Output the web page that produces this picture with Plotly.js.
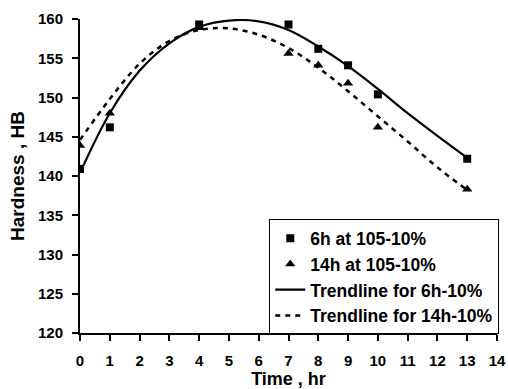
<!DOCTYPE html>
<html>
<head>
<meta charset="utf-8">
<script src="https://cdn.plot.ly/plotly-3.0.1.min.js"></script>
<style>html,body{margin:0;padding:0;background:#fff;}#chart{width:508px;height:389px;}</style>
</head>
<body>
<div id="chart"></div>
<script>
// Measured data points
const time6 = [0, 1, 4, 7, 8, 9, 10, 13];
const hard6 = [140.9, 146.2, 159.3, 159.3, 156.2, 154.1, 150.4, 142.2];
const time14 = [0, 1, 4, 7, 8, 9, 10, 13];
const hard14 = [143.9, 148.0, 158.9, 155.6, 154.1, 151.8, 146.2, 138.3];
// Trendlines
const trendX = [0, 1, 2, 3, 4, 5, 6, 7, 8, 9, 10, 11, 12, 13];
const trend6 = [140.4, 148.0, 153.4, 156.9, 159.0, 159.8, 159.7, 158.6, 156.5, 154.0, 151.1, 148.0, 145.1, 142.3];
const trend14 = [144.6, 149.8, 154.3, 157.2, 158.6, 158.8, 158.0, 156.3, 153.8, 150.8, 147.6, 144.4, 141.1, 138.2];
const names = ["6h at 105-10%", "14h at 105-10%", "Trendline for 6h-10%", "Trendline for 14h-10%"];
const xTicks = [0,1,2,3,4,5,6,7,8,9,10,11,12,13,14];
const yTicks = [120,125,130,135,140,145,150,155,160];

const FONT = "Arial, 'Liberation Sans', sans-serif";

const data = [
  {x: trendX, y: trend14, mode: "lines", name: names[3], legendrank: 4,
   line: {color: "#000", width: 2.5, dash: "5px,5px", shape: "spline"}},
  {x: trendX, y: trend6, mode: "lines", name: names[2], legendrank: 3,
   line: {color: "#000", width: 2.2, shape: "spline"}},
  {x: time14, y: hard14, mode: "markers", name: names[1], legendrank: 2,
   marker: {symbol: "triangle-up", size: 9, color: "#000"}},
  {x: time6, y: hard6, mode: "markers", name: names[0], legendrank: 1,
   marker: {symbol: "square", size: 8, color: "#000"}}
];

const layout = {
  width: 508, height: 389,
  margin: {l: 80, r: 10, t: 19, b: 56},
  paper_bgcolor: "#fff", plot_bgcolor: "#fff",
  font: {family: FONT, color: "#000", size: 15, weight: "bold"},
  showlegend: true,
  legend: {
    x: 1.003, xanchor: "right", y: 0.362, yanchor: "top",
    bordercolor: "#000", borderwidth: 1, bgcolor: "#fff",
    font: {family: FONT, size: 17.5, color: "#000", weight: "bold"},
    traceorder: "normal"
  },
  xaxis: {
    range: [0, 14], tickvals: xTicks, ticktext: xTicks.map(String),
    showgrid: false, zeroline: false, showline: true, linecolor: "#000", linewidth: 2,
    ticks: "outside", ticklen: 6, tickwidth: 2, tickcolor: "#000",
    ticklabelstandoff: 7,
    tickfont: {family: FONT, size: 15, weight: "bold", color: "#000"},
    title: {text: "Time , hr", font: {family: FONT, size: 18, weight: "bold", color: "#000"}, standoff: 7}
  },
  yaxis: {
    range: [120, 160], tickvals: yTicks, ticktext: yTicks.map(String),
    showgrid: false, zeroline: false, showline: true, linecolor: "#000", linewidth: 2,
    ticks: "outside", ticklen: 6, tickwidth: 2, tickcolor: "#000",
    ticklabelstandoff: 6,
    tickfont: {family: FONT, size: 15, weight: "bold", color: "#000"},
    title: {text: "Hardness , HB", font: {family: FONT, size: 19, weight: "bold", color: "#000"}, standoff: 8}
  }
};

Plotly.newPlot("chart", data, layout, {displayModeBar: false, staticPlot: true});
</script>
</body>
</html>
